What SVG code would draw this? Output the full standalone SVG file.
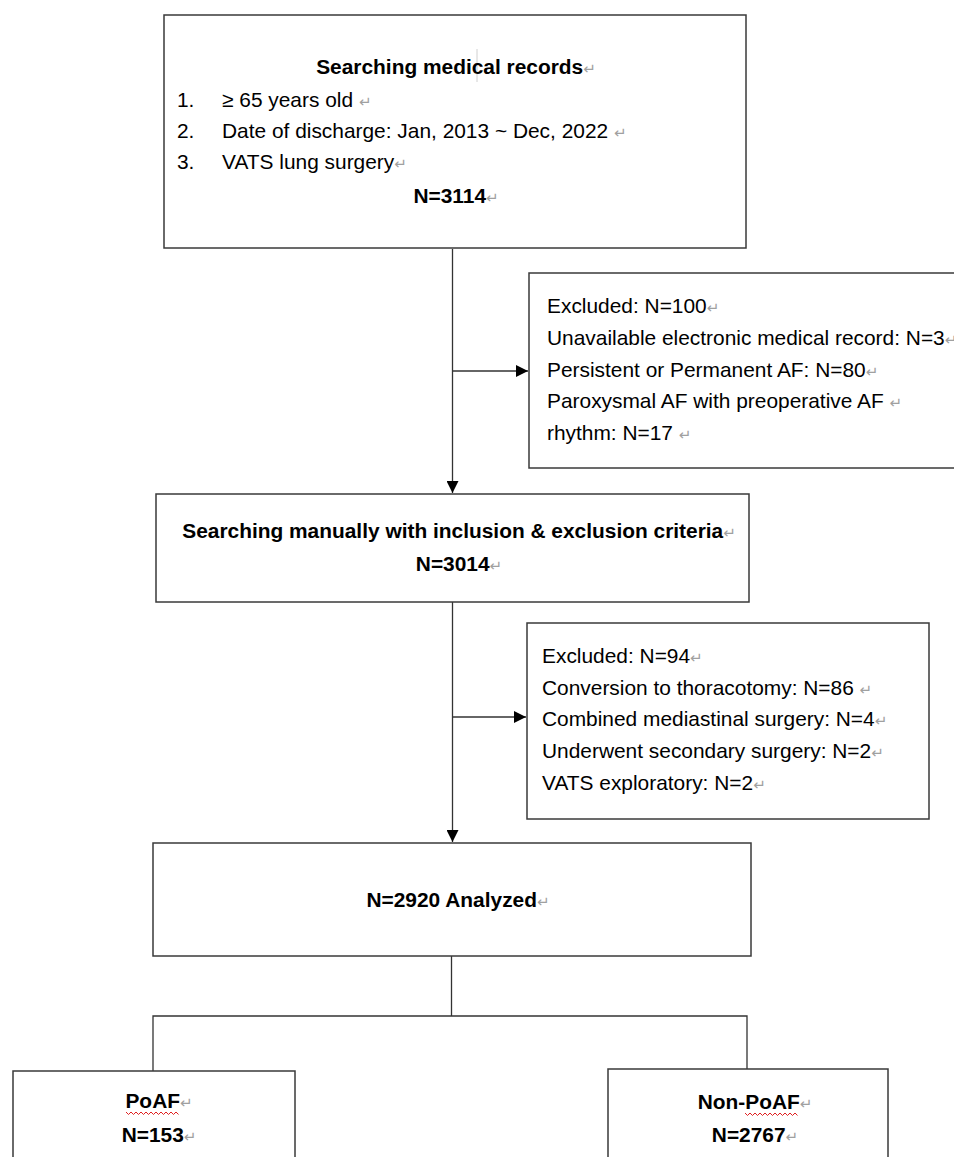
<svg xmlns="http://www.w3.org/2000/svg" width="954" height="1157" viewBox="0 0 954 1157">
<style>
.box{fill:#fff;stroke:#3a3a3a;stroke-width:1.5}
.ln{fill:none;stroke:#333;stroke-width:1.3}
text{font-family:"Liberation Sans",Arial,sans-serif;font-size:20.9px;fill:#000}
.b{font-weight:bold}
.c{text-anchor:middle}
.pm{fill:#a0a0a0;font-family:"DejaVu Sans",sans-serif;font-size:15px;font-weight:normal}
.sq{fill:none;stroke:#e02020;stroke-width:1}
</style>
<defs>
<marker id="arr" markerUnits="userSpaceOnUse" markerWidth="12" markerHeight="12" refX="12" refY="6" orient="auto">
<path d="M0,0 L12,6 L0,12 z" fill="#000"/>
</marker>
</defs>
<rect width="954" height="1157" fill="#fff"/>
<g id="connectors">
<line class="ln" x1="452.5" y1="249" x2="452.5" y2="493" marker-end="url(#arr)"/>
<line class="ln" x1="452.5" y1="371" x2="528" y2="371" marker-end="url(#arr)"/>
<line class="ln" x1="452.5" y1="602" x2="452.5" y2="842" marker-end="url(#arr)"/>
<line class="ln" x1="452.5" y1="717" x2="526" y2="717" marker-end="url(#arr)"/>
<line class="ln" x1="451.5" y1="956" x2="451.5" y2="1016"/>
<polyline class="ln" points="153,1071 153,1016 747,1016 747,1069"/>
</g>
<g id="n-records">
<rect class="box" x="164" y="15" width="582" height="233"/>
<line x1="477" y1="49" x2="477" y2="82" stroke="#d0d0d0" stroke-width="1"/>
<text class="b c" x="456" y="74">Searching medical records<tspan class="pm">↵</tspan></text>
<text x="177" y="107">1.</text><text x="222" y="107">≥ 65 years old <tspan class="pm">↵</tspan></text>
<text x="177" y="138">2.</text><text x="222" y="138">Date of discharge: Jan, 2013 ~ Dec, 2022 <tspan class="pm">↵</tspan></text>
<text x="177" y="169">3.</text><text x="222" y="169">VATS lung surgery<tspan class="pm">↵</tspan></text>
<text class="b c" x="456" y="203">N=3114<tspan class="pm">↵</tspan></text>
</g>
<g id="n-excluded1">
<rect class="box" x="529" y="273" width="440" height="195"/>
<text x="547" y="313">Excluded: N=100<tspan class="pm">↵</tspan></text>
<text x="547" y="345">Unavailable electronic medical record: N=3<tspan class="pm">↵</tspan></text>
<text x="547" y="377">Persistent or Permanent AF: N=80<tspan class="pm">↵</tspan></text>
<text x="547" y="408">Paroxysmal AF with preoperative AF <tspan class="pm">↵</tspan></text>
<text x="547" y="440">rhythm: N=17 <tspan class="pm">↵</tspan></text>
</g>
<g id="n-manual">
<rect class="box" x="156" y="494" width="593" height="108"/>
<text class="b c" x="459" y="538">Searching manually with inclusion &amp; exclusion criteria<tspan class="pm">↵</tspan></text>
<text class="b c" x="459" y="571">N=3014<tspan class="pm">↵</tspan></text>
</g>
<g id="n-excluded2">
<rect class="box" x="527" y="623" width="402" height="196"/>
<text x="542" y="663">Excluded: N=94<tspan class="pm">↵</tspan></text>
<text x="542" y="695">Conversion to thoracotomy: N=86 <tspan class="pm">↵</tspan></text>
<text x="542" y="726">Combined mediastinal surgery: N=4<tspan class="pm">↵</tspan></text>
<text x="542" y="758">Underwent secondary surgery: N=2<tspan class="pm">↵</tspan></text>
<text x="542" y="790">VATS exploratory: N=2<tspan class="pm">↵</tspan></text>
</g>
<g id="n-analyzed">
<rect class="box" x="153" y="843" width="598" height="113"/>
<text class="b c" x="458" y="907">N=2920 Analyzed<tspan class="pm">↵</tspan></text>
</g>
<g id="n-poaf">
<rect class="box" x="13" y="1071" width="282" height="100"/>
<text class="b c" x="159" y="1108">PoAF<tspan class="pm">↵</tspan></text>
<path class="sq" d="M126,1112 l2.5,2.5 l2.5,-2.5 l2.5,2.5 l2.5,-2.5 l2.5,2.5 l2.5,-2.5 l2.5,2.5 l2.5,-2.5 l2.5,2.5 l2.5,-2.5 l2.5,2.5 l2.5,-2.5 l2.5,2.5 l2.5,-2.5 l2.5,2.5 l2.5,-2.5 l2.5,2.5 l2.5,-2.5 l2.5,2.5 l2.5,-2.5 l2.5,2.5"/>
<text class="b c" x="159" y="1142">N=153<tspan class="pm">↵</tspan></text>
</g>
<g id="n-nonpoaf">
<rect class="box" x="608" y="1069" width="280" height="100"/>
<text class="b c" x="755" y="1109">Non-PoAF<tspan class="pm">↵</tspan></text>
<path class="sq" d="M745,1113 l2.5,2.5 l2.5,-2.5 l2.5,2.5 l2.5,-2.5 l2.5,2.5 l2.5,-2.5 l2.5,2.5 l2.5,-2.5 l2.5,2.5 l2.5,-2.5 l2.5,2.5 l2.5,-2.5 l2.5,2.5 l2.5,-2.5 l2.5,2.5 l2.5,-2.5 l2.5,2.5 l2.5,-2.5 l2.5,2.5 l2.5,-2.5 l2.5,2.5"/>
<text class="b c" x="755" y="1142">N=2767<tspan class="pm">↵</tspan></text>
</g>
</svg>
